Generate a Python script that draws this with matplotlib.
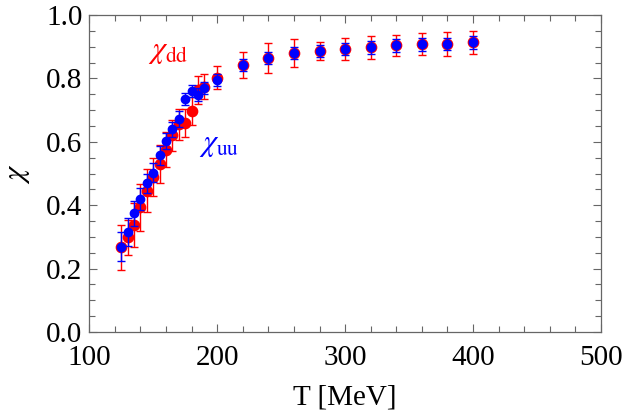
import matplotlib
matplotlib.use("Agg")
import matplotlib.pyplot as plt
from matplotlib.ticker import MultipleLocator

T = [125, 130, 135, 140, 145, 150, 155, 160, 165, 170, 175, 180, 185, 190, 200,
     220, 240, 260, 280, 300, 320, 340, 360, 380, 400]
chi_dd = [0.267, 0.299, 0.338, 0.393, 0.446, 0.490, 0.530, 0.575, 0.620, 0.655, 0.660,
          0.697, 0.763, 0.774, 0.802, 0.842, 0.864, 0.880, 0.886, 0.893, 0.898, 0.904,
          0.908, 0.909, 0.914]
err_dd = [0.070, 0.055, 0.070, 0.075, 0.068, 0.060, 0.060, 0.055, 0.050, 0.050, 0.045,
          0.045, 0.045, 0.040, 0.036, 0.040, 0.047, 0.043, 0.028, 0.036, 0.036, 0.033,
          0.034, 0.037, 0.037]
chi_uu = [0.269, 0.315, 0.374, 0.419, 0.469, 0.503, 0.558, 0.602, 0.639, 0.671, 0.735,
          0.760, 0.749, 0.770, 0.795, 0.842, 0.864, 0.880, 0.886, 0.893, 0.898, 0.904,
          0.908, 0.909, 0.914]
err_uu = [0.045, 0.045, 0.040, 0.035, 0.030, 0.030, 0.030, 0.025, 0.025, 0.025, 0.020,
          0.020, 0.020, 0.020, 0.020, 0.020, 0.020, 0.020, 0.020, 0.020, 0.020, 0.020,
          0.020, 0.020, 0.020]

plt.rcParams['font.family'] = ['Liberation Serif', 'DejaVu Serif']
plt.rcParams['mathtext.fontset'] = 'stix'

fig = plt.figure(figsize=(6.25, 4.11), dpi=100)
ax = fig.add_axes([0.1429, 0.1922, 0.8187, 0.7713])

ax.errorbar(T, chi_dd, yerr=err_dd, fmt='o', color='red', ecolor='red',
            markersize=7.4, elinewidth=1.0, capsize=3, capthick=1.0, zorder=2)
ax.errorbar(T, chi_uu, yerr=err_uu, fmt='o', color='blue', ecolor='blue',
            markersize=6.0, elinewidth=1.0, capsize=3, capthick=1.0, zorder=3)

ax.text(145.5, 0.885, r'$\chi_{\mathrm{dd}}$', color='red', fontsize=22,
        ha='left', va='center')
ax.text(185.5, 0.59, r'$\chi_{\mathrm{uu}}$', color='blue', fontsize=22,
        ha='left', va='center')

ax.set_xlim(100, 500)
ax.set_ylim(0.0, 1.0)
ax.xaxis.set_major_locator(MultipleLocator(100))
ax.xaxis.set_minor_locator(MultipleLocator(20))
ax.yaxis.set_major_locator(MultipleLocator(0.2))
ax.yaxis.set_minor_locator(MultipleLocator(0.05))
ax.yaxis.set_major_formatter(matplotlib.ticker.FormatStrFormatter('%.1f'))

for s in ax.spines.values():
    s.set_color('#666666')
    s.set_linewidth(0.9)
ax.tick_params(which='both', direction='in', top=True, right=True, color='#666666',
               labelsize=21, width=0.8)
ax.tick_params(which='major', length=6, pad=5)
ax.tick_params(which='minor', length=4)
ax.tick_params(axis='x', which='major', pad=9)

ax.set_xlabel('T [MeV]', fontsize=21, labelpad=10)
ax.set_ylabel(r'$\chi$', fontsize=22, labelpad=10)

fig.savefig('out.png', dpi=100)
